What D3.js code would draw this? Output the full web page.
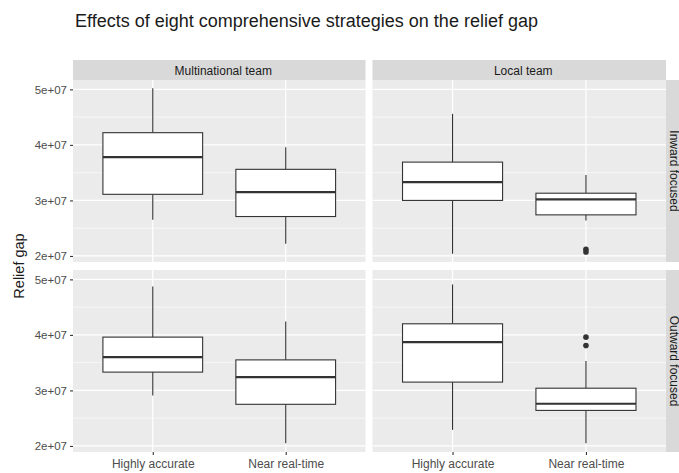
<!DOCTYPE html>
<html>
<head>
<meta charset="utf-8">
<script src="https://cdn.jsdelivr.net/npm/d3@7"></script>
<style>
  html, body { margin: 0; padding: 0; background: #fff; }
  svg { display: block; font-family: "Liberation Sans", Arial, sans-serif; }
</style>
</head>
<body>
<svg id="chart" width="679" height="473"></svg>
<script>
// Facet levels
const teams = ["Multinational team", "Local team"];
const focuses = ["Inward focused", "Outward focused"];
const strategies = ["Highly accurate", "Near real-time"];
const yTicks = [2e7, 3e7, 4e7, 5e7];
const yMinor = [2.5e7, 3.5e7, 4.5e7];
const yTickLabels = ["2e+07", "3e+07", "4e+07", "5e+07"];

// Box statistics per strategy: [lower whisker, Q1, median, Q3, upper whisker]
const multiInward  = [[2.65e7, 3.11e7, 3.78e7, 4.22e7, 5.02e7], [2.22e7, 2.71e7, 3.15e7, 3.56e7, 3.96e7]];
const localInward  = [[2.04e7, 3.00e7, 3.33e7, 3.69e7, 4.56e7], [2.64e7, 2.74e7, 3.02e7, 3.13e7, 3.46e7]];
const multiOutward = [[2.91e7, 3.33e7, 3.60e7, 3.96e7, 4.87e7], [2.05e7, 2.75e7, 3.24e7, 3.55e7, 4.24e7]];
const localOutward = [[2.29e7, 3.15e7, 3.87e7, 4.20e7, 4.91e7], [2.05e7, 2.64e7, 2.76e7, 3.04e7, 3.53e7]];

// Outlying points per strategy
const localInwardOut  = [[], [2.12e7, 2.07e7]];
const localOutwardOut = [[], [3.96e7, 3.81e7]];

const panels = [
  { team: 0, focus: 0, boxes: multiInward,  outliers: [[], []] },
  { team: 1, focus: 0, boxes: localInward,  outliers: localInwardOut },
  { team: 0, focus: 1, boxes: multiOutward, outliers: [[], []] },
  { team: 1, focus: 1, boxes: localOutward, outliers: localOutwardOut }
];

const svg = d3.select("#chart");

// Panel geometry
const colX = [[73, 365.5], [372.5, 666]];
const rowY = [[80, 262], [270, 452]];
const stripTop = 60;
const stripRight = 686;

// Shared y domain from all values, expanded 5% on each side
const allVals = [];
panels.forEach(p => {
  p.boxes.forEach(b => allVals.push(...b));
  p.outliers.forEach(o => allVals.push(...o));
});
const lo = d3.min(allVals), hi = d3.max(allVals);
const pad = (hi - lo) * 0.05;
const yDomain = [lo - pad, hi + pad];

const gridColor = "#ffffff";
const boxStroke = "#333333";

// Title
svg.append("text")
  .attr("x", 75).attr("y", 27)
  .attr("font-size", 18)
  .attr("fill", "#1a1a1a")
  .text("Effects of eight comprehensive strategies on the relief gap");

// Column strips
teams.forEach((t, i) => {
  const [x0, x1] = colX[i];
  svg.append("rect")
    .attr("x", x0).attr("y", stripTop)
    .attr("width", x1 - x0).attr("height", rowY[0][0] - stripTop)
    .attr("fill", "#d9d9d9");
  svg.append("text")
    .attr("x", (x0 + x1) / 2 + 4).attr("y", (stripTop + rowY[0][0]) / 2 + 4.5)
    .attr("text-anchor", "middle")
    .attr("font-size", 12)
    .attr("fill", "#1a1a1a")
    .text(t);
});

// Row strips
focuses.forEach((f, j) => {
  const [y0, y1] = rowY[j];
  svg.append("rect")
    .attr("x", colX[1][1]).attr("y", y0)
    .attr("width", stripRight - colX[1][1]).attr("height", y1 - y0)
    .attr("fill", "#d9d9d9");
  const cx = colX[1][1] + 8, cy = (y0 + y1) / 2;
  svg.append("text")
    .attr("transform", `translate(${cx},${cy}) rotate(90)`)
    .attr("text-anchor", "middle")
    .attr("dy", "0.35em")
    .attr("font-size", 12)
    .attr("fill", "#1a1a1a")
    .text(f);
});

panels.forEach(p => {
  const [x0, x1] = colX[p.team];
  const [y0, y1] = rowY[p.focus];
  const x = d3.scalePoint().domain(strategies).range([x0, x1]).padding(0.6);
  const y = d3.scaleLinear().domain(yDomain).range([y1, y0]);
  const bw = x.step() * 0.75;

  const g = svg.append("g");
  g.append("rect")
    .attr("x", x0).attr("y", y0)
    .attr("width", x1 - x0).attr("height", y1 - y0)
    .attr("fill", "#ebebeb");

  // Grid
  g.selectAll(".minor").data(yMinor).join("line")
    .attr("x1", x0).attr("x2", x1)
    .attr("y1", d => y(d)).attr("y2", d => y(d))
    .attr("stroke", gridColor).attr("stroke-width", 0.6);
  g.selectAll(".major").data(yTicks).join("line")
    .attr("x1", x0).attr("x2", x1)
    .attr("y1", d => y(d)).attr("y2", d => y(d))
    .attr("stroke", gridColor).attr("stroke-width", 1.2);
  g.selectAll(".vgrid").data(strategies).join("line")
    .attr("x1", d => x(d)).attr("x2", d => x(d))
    .attr("y1", y0).attr("y2", y1)
    .attr("stroke", gridColor).attr("stroke-width", 1.2);

  // Boxes
  strategies.forEach((s, k) => {
    const [wl, q1, med, q3, wh] = p.boxes[k];
    const cx = x(s);
    g.append("line")
      .attr("x1", cx).attr("x2", cx)
      .attr("y1", y(q3)).attr("y2", y(wh))
      .attr("stroke", boxStroke).attr("stroke-width", 1.1);
    g.append("line")
      .attr("x1", cx).attr("x2", cx)
      .attr("y1", y(q1)).attr("y2", y(wl))
      .attr("stroke", boxStroke).attr("stroke-width", 1.1);
    g.append("rect")
      .attr("x", cx - bw / 2).attr("y", y(q3))
      .attr("width", bw).attr("height", y(q1) - y(q3))
      .attr("fill", "#ffffff")
      .attr("stroke", boxStroke).attr("stroke-width", 1.1);
    g.append("line")
      .attr("x1", cx - bw / 2).attr("x2", cx + bw / 2)
      .attr("y1", y(med)).attr("y2", y(med))
      .attr("stroke", boxStroke).attr("stroke-width", 2.2);
    g.selectAll(null).data(p.outliers[k]).join("circle")
      .attr("cx", cx).attr("cy", d => y(d))
      .attr("r", 2.8)
      .attr("fill", boxStroke);
  });

  // Y axis on left column
  if (p.team === 0) {
    const axis = d3.axisLeft(y).tickValues(yTicks)
      .tickFormat((d, i) => yTickLabels[i])
      .tickSize(3).tickPadding(3);
    const ag = svg.append("g").attr("transform", `translate(${x0},0)`).call(axis);
    ag.select(".domain").remove();
    ag.selectAll(".tick line").attr("stroke", "#333333").attr("stroke-width", 1.1);
    ag.selectAll(".tick text")
      .attr("fill", "#4d4d4d")
      .attr("font-size", 11.5)
      .attr("font-family", "Liberation Sans, Arial, sans-serif");
  }

  // X axis on bottom row
  if (p.focus === 1) {
    const axis = d3.axisBottom(x).tickSize(3).tickPadding(4);
    const ag = svg.append("g").attr("transform", `translate(0,${y1})`).call(axis);
    ag.select(".domain").remove();
    ag.selectAll(".tick line").attr("stroke", "#333333").attr("stroke-width", 1.1);
    ag.selectAll(".tick text")
      .attr("fill", "#4d4d4d")
      .attr("font-size", 12)
      .attr("font-family", "Liberation Sans, Arial, sans-serif");
  }
});

// Y axis title
svg.append("text")
  .attr("transform", `translate(19,${(rowY[0][0] + rowY[1][1]) / 2}) rotate(-90)`)
  .attr("text-anchor", "middle")
  .attr("dy", "0.35em")
  .attr("font-size", 14.5)
  .attr("fill", "#1a1a1a")
  .text("Relief gap");
</script>
</body>
</html>
